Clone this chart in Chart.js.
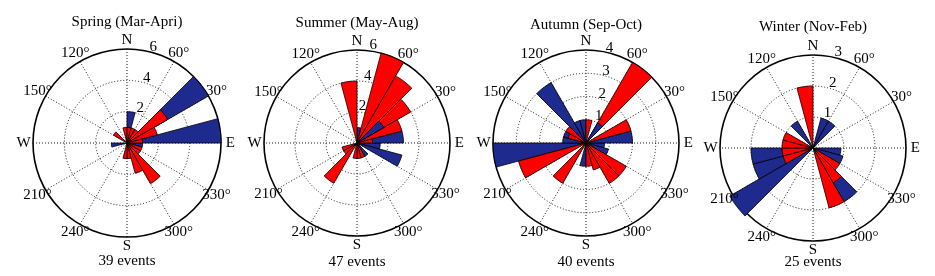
<!DOCTYPE html>
<html>
<head>
<meta charset="utf-8">
<script src="https://cdn.jsdelivr.net/npm/chart.js@4.4.1/dist/chart.umd.min.js"></script>
<style>
  html, body { margin: 0; padding: 0; background: #ffffff; }
  body { width: 935px; height: 276px; position: relative; overflow: hidden; }
  canvas { position: absolute; top: 0; }
</style>
</head>
<body>
<canvas id="c0" width="234" height="276"></canvas>
<canvas id="c1" width="234" height="276"></canvas>
<canvas id="c2" width="234" height="276"></canvas>
<canvas id="c3" width="234" height="276"></canvas>
<script>
// ---------- categories: 15° direction bins, counter-clockwise from East ----------
const binStarts = [0, 15, 30, 45, 60, 75, 90, 105, 120, 135, 150, 165,
                   180, 195, 210, 225, 240, 255, 270, 285, 300, 315, 330, 345];

// angular tick labels (every 30°, counter-clockwise from East)
const angleTickDeg    = [0, 30, 60, 90, 120, 150, 180, 210, 240, 270, 300, 330];
const angleTickLabels = ['E', '30°', '60°', 'N', '120°', '150°', 'W', '210°', '240°', 'S', '300°', '330°'];

// ---------- titles ----------
const seasonTitles = ['Spring (Mar-Apri)', 'Summer (May-Aug)', 'Autumn (Sep-Oct)', 'Winter (Nov-Feb)'];
const eventLabels  = ['39 events', '47 events', '40 events', '25 events'];

// ---------- radial tick labels ----------
const springTicks = [2, 4, 6];
const summerTicks = [2, 4, 6];
const autumnTicks = [1, 2, 3, 4];
const winterTicks = [1, 2, 3];

// ---------- series (counts per bin, same order as binStarts) ----------
const springRed       = [1, 2, 3, 1, 1, 1, 1, 0, 0, 1, 0, 0, 0, 0, 0, 0, 0, 1, 1, 2, 3, 1, 1, 0];
const springBlue      = [6, 0, 6, 0, 0, 2, 0, 0, 0, 0, 0, 0, 1, 0, 0, 0, 0, 0, 0, 0, 0, 0, 0, 1];
const springBlueFront = [0, 0, 0, 0, 0, 0, 0, 0, 0, 0, 0, 0, 0, 0, 0, 0, 0, 0, 0, 0, 0, 0, 0, 0];

const summerRed       = [1, 3, 4, 5, 6, 0, 4, 0, 0, 0, 0, 0, 0, 1, 1, 3, 0, 1, 1, 1, 0, 0, 0, 0];
const summerBlue      = [3, 0, 0, 0, 0, 1, 0, 0, 0, 0, 0, 0, 0, 0, 0, 0, 0, 0, 0, 0, 1, 0, 3, 1.5];
const summerBlueFront = [0, 0, 2, 0, 0, 0, 0, 0, 0, 0, 0, 0, 0, 0, 0, 0, 0, 0, 0, 0, 0, 0, 0, 0];

const autumnRed       = [0, 2, 0, 4, 0, 1, 0, 0, 0, 1, 0.8, 0, 0, 3, 0, 2, 0, 0, 1, 1.2, 2, 2, 0, 0];
const autumnBlue      = [2, 0, 0, 0, 0, 0, 1, 1, 3, 0, 1, 1, 4, 0, 0, 0, 0, 1, 0, 0, 0, 0, 1, 0.8];
const autumnBlueFront = [0, 0, 0, 1, 0, 0, 0, 0, 0, 0, 0, 0, 0, 0, 0, 0, 0, 0, 0, 0, 0, 0, 0, 0];

const winterRed       = [0, 0, 0, 0, 0, 0, 2, 0, 0, 0, 1, 1, 1, 1, 0, 0, 0, 0, 0, 2, 1.3, 1, 0, 0];
const winterBlue      = [0, 0, 0, 1, 1, 0, 0, 0, 1, 0, 0, 0, 2, 2, 3.1, 0, 0, 0, 0, 0, 2, 0, 1, 0.9];
const winterBlueFront = [0, 0, 0, 0, 0, 0, 0, 0, 0, 0, 0, 0, 0, 0, 0, 0, 0, 0, 0, 0, 0, 0, 0, 0];

// ---------- styling ----------
const RED = '#ff0000';
const BLUE = '#1f2a8e';
const FONT = '"Liberation Serif", "Times New Roman", serif';

// Chart.js runs clockwise; rose plots run counter-clockwise -> reverse order
const rev = a => a.slice().reverse();

const overlay = {
  id: 'overlay',
  afterDatasetsDraw(chart, args, opts) {
    const s = chart.scales.r;
    const ctx = chart.ctx;
    ctx.save();
    ctx.fillStyle = '#000';
    ctx.font = '15px ' + FONT;
    ctx.textAlign = 'center';
    ctx.textBaseline = 'middle';
    const n = binStarts.length;
    const outer = s.getDistanceFromCenterForValue(s.max) * 1.1;
    angleTickDeg.forEach((deg, k) => {
      const idx = ((360 - deg) % 360) / (360 / n);
      const p = s.getPointPosition(idx, outer);
      ctx.fillText(angleTickLabels[k], p.x, p.y);
    });
    const a = opts.tickAngle * Math.PI / 180;
    opts.ticks.forEach(v => {
      const d = s.getDistanceFromCenterForValue(v);
      const x = s.xCenter + d * Math.cos(a) + opts.dx;
      const y = s.yCenter - d * Math.sin(a) + opts.dy;
      ctx.fillText(String(v), x, y);
    });
    ctx.restore();
  }
};

function makeChart(k, red, blue, blueFront, ticks, lay) {
  const cv = document.getElementById('c' + k);
  cv.style.left = lay.left + 'px';
  const max = ticks[ticks.length - 1];
  new Chart(cv, {
    type: 'polarArea',
    data: {
      labels: rev(binStarts).map(b => b + '°'),
      datasets: [
        { label: 'blue (front)', data: rev(blueFront), backgroundColor: BLUE, order: 0 },
        { label: 'red', data: rev(red), backgroundColor: RED, order: 1 },
        { label: 'blue', data: rev(blue), backgroundColor: BLUE, order: 2 }
      ]
    },
    options: {
      responsive: false,
      animation: false,
      layout: { padding: 0 },
      elements: { arc: { borderColor: '#000000', borderWidth: 0.8 } },
      plugins: {
        legend: { display: false },
        tooltip: { enabled: false },
        title: {
          display: true, text: seasonTitles[k], color: '#000',
          font: { family: FONT, size: 15, weight: 'normal', lineHeight: 1.2 },
          padding: { top: lay.pt, bottom: lay.pb }
        },
        subtitle: {
          display: true, position: 'bottom', text: eventLabels[k], color: '#000',
          font: { family: FONT, size: 15, weight: 'normal', lineHeight: 1.2 },
          padding: { top: lay.pt2, bottom: lay.pb2 }
        },
        overlay: { ticks: ticks, tickAngle: lay.ta, dx: lay.dx, dy: lay.dy }
      },
      scales: {
        r: {
          min: 0, max: max, startAngle: 90,
          ticks: { display: false, stepSize: ticks[0] },
          pointLabels: { display: false },
          grid: {
            circular: true,
            color: '#000',
            lineWidth: c => (c.tick && c.tick.value === max) ? 1.6 : 0.9,
            borderDash: c => (c.tick && c.tick.value === max) ? [] : [1, 2]
          },
          border: { dash: c => (c.tick && c.tick.value === max) ? [] : [1, 2] },
          angleLines: {
            display: true,
            color: c => (c.index % 2 === 0) ? '#000' : 'rgba(0,0,0,0)',
            lineWidth: c => (c.index % 2 === 0) ? 0.9 : 0,
            borderDash: [1, 2]
          }
        }
      }
    },
    plugins: [overlay]
  });
}

makeChart(0, springRed, springBlue, springBlueFront, springTicks,
  { left: 10, pt: 13, pb: 18, pt2: 15, pb2: 6, ta: 78, dx: 6.7, dy: -3.8 });
makeChart(1, summerRed, summerBlue, summerBlueFront, summerTicks,
  { left: 240, pt: 14, pb: 18, pt2: 17, pb2: 5, ta: 80, dx: 0, dy: -6 });
makeChart(2, autumnRed, autumnBlue, autumnBlueFront, autumnTicks,
  { left: 469, pt: 16, pb: 16, pt2: 17, pb2: 5, ta: 81, dx: 9, dy: -3.5 });
makeChart(3, winterRed, winterBlue, winterBlueFront, winterTicks,
  { left: 696, pt: 18, pb: 19, pt2: 12, pb2: 5, ta: 80, dx: 9, dy: -4 });
</script>
</body>
</html>
